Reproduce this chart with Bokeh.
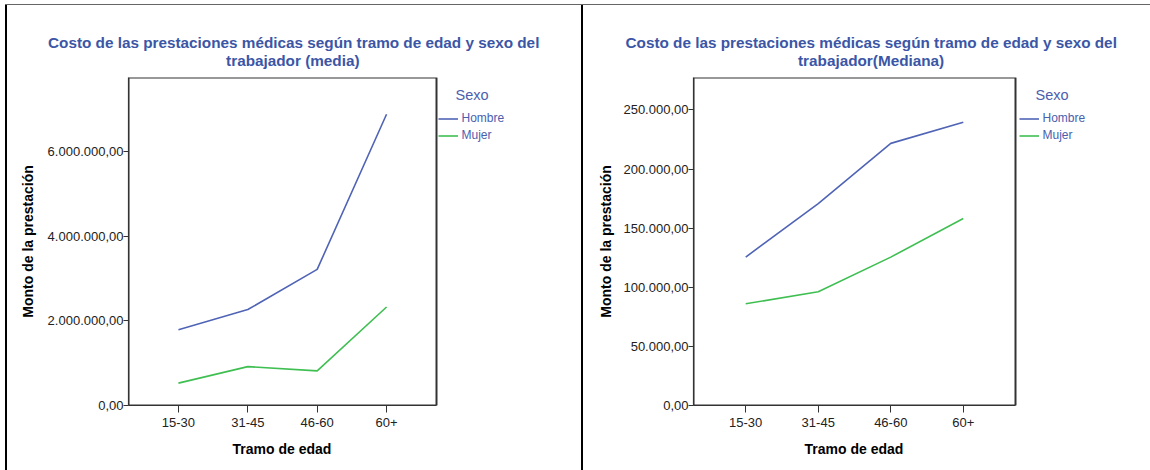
from bokeh.plotting import figure
from bokeh.models import Legend, LegendItem, Range1d, FixedTicker, Div, Title, Label
from bokeh.layouts import row, column
from bokeh.embed import file_html
from bokeh.resources import INLINE

# ---------------- data ----------------
age_groups = ["15-30", "31-45", "46-60", "60+"]
sexes = ["Hombre", "Mujer"]

media_hombre = [1790000, 2270000, 3220000, 6890000]
media_mujer = [530000, 920000, 820000, 2330000]

mediana_hombre = [125500, 170800, 221700, 239600]
mediana_mujer = [86000, 96200, 125500, 158100]

media_yticks = [0, 2000000, 4000000, 6000000]
mediana_yticks = [0, 50000, 100000, 150000, 200000, 250000]

media_title = ["Costo de las prestaciones médicas según tramo de edad y sexo del",
               "trabajador (media)"]
mediana_title = ["Costo de las prestaciones médicas según tramo de edad y sexo del",
                 "trabajador(Mediana)"]
y_label = "Monto de la prestación"
x_label = "Tramo de edad"
legend_title = "Sexo"

# ---------------- style ----------------
FONT = "Liberation Sans"
TITLE_BLUE = "#3b56a6"
LEG_BLUE = "#4a60ae"
COLORS = {"Hombre": "#5064b6", "Mujer": "#3fbf52"}
FRAME_H = 328
TOP = 72
BOTTOM = 65
X0, X1 = 0.28, 4.72          # visible plot box in x units


def es_format(v):
    s = f"{v:,.2f}"
    return s.replace(",", "X").replace(".", ",").replace("X", ".")


def make_panel(hombre, mujer, yticks, ymax, title_lines, box_w, ext_w, bl, br,
               title_offs, xlabel_off, ylabel_standoff, legend_x, sexo_x):
    xs = list(range(1, len(age_groups) + 1))
    fw = box_w + ext_w
    x_end = X0 + (X1 - X0) * fw / box_w
    p = figure(frame_width=fw, frame_height=FRAME_H,
               min_border_left=bl, min_border_right=br,
               min_border_top=TOP, min_border_bottom=BOTTOM,
               x_range=Range1d(X0, x_end), y_range=Range1d(0, ymax),
               output_backend="svg", toolbar_location=None, title=None,
               background_fill_color="white", border_fill_color="white")
    p.grid.visible = False
    p.outline_line_color = None

    # visible plot box
    p.quad(left=[X0], right=[X1], bottom=[0], top=[ymax],
           fill_color=None, line_color="#333333", line_width=2)

    r_h = p.line(xs, hombre, line_color=COLORS["Hombre"], line_width=1.6)
    r_m = p.line(xs, mujer, line_color=COLORS["Mujer"], line_width=1.6)

    # axes
    for ax in (p.xaxis[0], p.yaxis[0]):
        ax.axis_line_color = "#333333"
        ax.axis_line_width = 1.2
        ax.major_tick_line_color = "#333333"
        ax.minor_tick_line_color = None
        ax.major_tick_in = 0
        ax.major_label_text_font = FONT
        ax.major_label_text_font_size = "13px"
        ax.major_label_text_color = "#222222"
        ax.axis_label_text_font = FONT
        ax.axis_label_text_font_style = "bold"
        ax.axis_label_text_font_size = "14px"
        ax.axis_label_text_color = "#000000"

    p.xaxis.bounds = (X0, X1)
    p.xaxis.ticker = FixedTicker(ticks=xs)
    p.xaxis.major_label_overrides = {x: lab for x, lab in zip(xs, age_groups)}
    p.xaxis.major_tick_out = 7
    p.xaxis.major_label_standoff = 5

    p.yaxis.ticker = FixedTicker(ticks=yticks)
    p.yaxis.major_label_overrides = {t: es_format(t) for t in yticks}
    p.yaxis.major_tick_out = 5
    p.yaxis.major_label_standoff = 0
    p.yaxis.axis_label = y_label
    p.yaxis.axis_label_standoff = ylabel_standoff

    # x-axis title, centred under the visible box
    p.add_layout(Title(text=x_label, align="left", offset=xlabel_off,
                       vertical_align="top", standoff=22,
                       text_font=FONT, text_font_style="bold",
                       text_font_size="14px", text_color="#000000"), "below")

    # chart title: first added sits closest to the frame
    p.add_layout(Title(text=title_lines[1], align="left", offset=title_offs[1],
                       vertical_align="top", standoff=14,
                       text_font=FONT, text_font_style="bold",
                       text_font_size="15.3px", text_color=TITLE_BLUE), "above")
    p.add_layout(Title(text=title_lines[0], align="left", offset=title_offs[0],
                       vertical_align="bottom", standoff=-13,
                       text_font=FONT, text_font_style="bold",
                       text_font_size="15.3px", text_color=TITLE_BLUE), "above")

    # legend (inside the widened frame, right of the plot box)
    p.add_layout(Label(x=sexo_x, y=311, x_units="screen", y_units="screen",
                       text=legend_title, text_align="left", text_baseline="middle",
                       text_font=FONT, text_font_size="14.5px", text_color=LEG_BLUE))
    legend = Legend(items=[LegendItem(label=sexes[0], renderers=[r_h]),
                           LegendItem(label=sexes[1], renderers=[r_m])],
                    location=(legend_x, 261.5), padding=0, margin=0, spacing=0,
                    glyph_width=20, glyph_height=17, label_height=17, label_standoff=4,
                    border_line_color=None, background_fill_alpha=0,
                    label_text_font=FONT, label_text_font_size="12px",
                    label_text_color=LEG_BLUE)
    p.add_layout(legend)
    return p


p_media = make_panel(media_hombre, media_mujer, media_yticks, 7760000, media_title,
                     box_w=308, ext_w=124, bl=121, br=21,
                     title_offs=[-80.5, 97.6], xlabel_off=104, ylabel_standoff=9,
                     legend_x=309.5, sexo_x=327)
p_mediana = make_panel(mediana_hombre, mediana_mujer, mediana_yticks, 277400, mediana_title,
                       box_w=322, ext_w=125, bl=110, br=5,
                       title_offs=[-68, 104.5], xlabel_off=111, ylabel_standoff=6,
                       legend_x=325.5, sexo_x=342)

H = TOP + FRAME_H + BOTTOM
top_line = Div(width=1145, height=1, margin=(4, 0, 0, 5),
               styles={"background-color": "#666666"})
left_border = Div(width=2, height=H, margin=(0, 0, 0, 5),
                  styles={"background-color": "#000000"})
divider = Div(width=2, height=H, margin=0, styles={"background-color": "#000000"})

layout = column(top_line, row(left_border, p_media, divider, p_mediana, spacing=0),
                spacing=0)

open("out.html", "w").write(file_html(layout, INLINE))
